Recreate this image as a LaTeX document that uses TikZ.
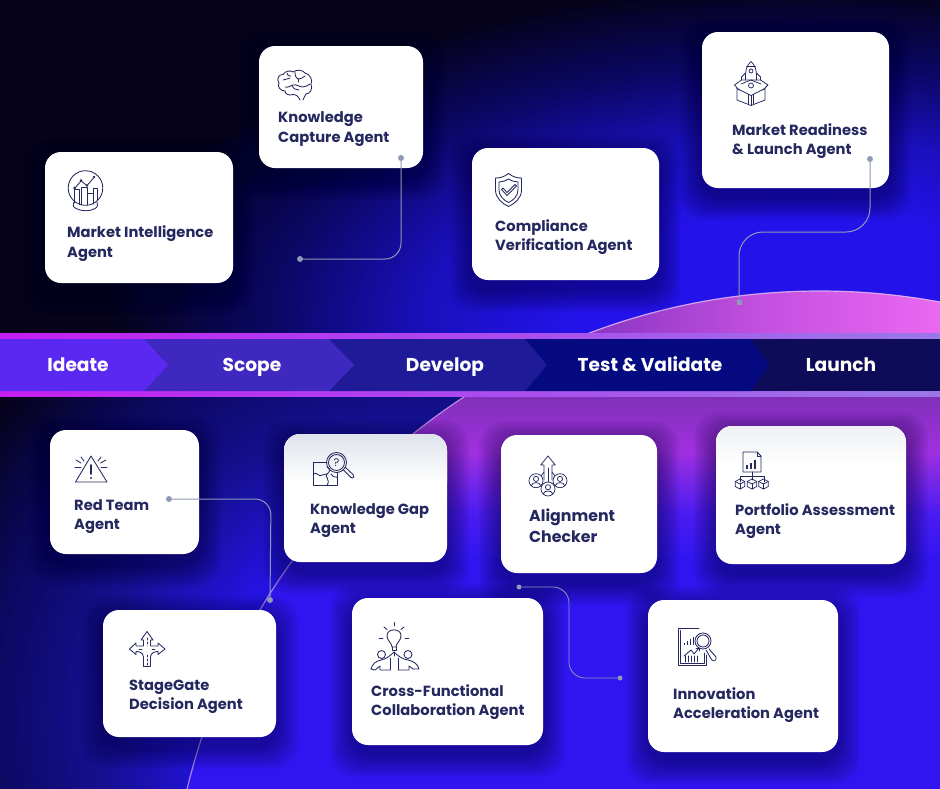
\documentclass[tikz,border=0pt]{standalone}
\usepackage{fontspec}
\setmainfont{Poppins}
\usetikzlibrary{calc}
\definecolor{dk}{HTML}{05021A}
\definecolor{ink}{HTML}{25285E}
\definecolor{gA}{HTML}{2412EA}
\definecolor{gB}{HTML}{1A10BE}
\definecolor{gC}{HTML}{0B0765}
\definecolor{gD}{HTML}{0C0860}
\definecolor{gE}{HTML}{141090}
\definecolor{gF}{HTML}{2413E0}
\definecolor{lineC}{HTML}{8D9AB8}
\definecolor{topgray}{HTML}{DEE3EB}
\definecolor{topgrayb}{HTML}{EEF0F4}
\definecolor{chA}{HTML}{5A28F0}\definecolor{chB}{HTML}{3E28C0}\definecolor{chC}{HTML}{1E1A98}\definecolor{chD}{HTML}{060A80}\definecolor{chE}{HTML}{0E0C58}
\pgfdeclareradialshading{topglow}{\pgfpoint{0bp}{0bp}}{color(0bp)=(gA);color(8bp)=(gA);color(13.5bp)=(gB);color(19bp)=(gC);color(25bp)=(dk);color(50bp)=(dk)}
\pgfdeclareradialshading{lowglow}{\pgfpoint{0bp}{0bp}}{color(0bp)=(gF);color(10bp)=(gF);color(15bp)=(gE);color(20bp)=(gD);color(25bp)=(dk);color(50bp)=(dk)}
\definecolor{c1}{HTML}{8A35C4}\definecolor{c2}{HTML}{C450E0}\definecolor{c3}{HTML}{EA68F2}
\pgfdeclarehorizontalshading{capfill}{100bp}{color(0bp)=(c1);color(25bp)=(c1);color(50bp)=(c2);color(75bp)=(c3);color(100bp)=(c3)}
\definecolor{p1}{HTML}{8030B8}\definecolor{p2}{HTML}{A030E0}\definecolor{p3}{HTML}{4A1CF0}\definecolor{p4}{HTML}{3015F0}
\pgfdeclareverticalshading{lowfill}{100bp}{color(0bp)=(p4);color(25bp)=(p4);color(54bp)=(p4);color(60bp)=(p3);color(68bp)=(p2);color(75bp)=(p1);color(100bp)=(p1)}
\definecolor{b1}{HTML}{C51FF0}\definecolor{b2}{HTML}{B040F0}\definecolor{b3}{HTML}{9A78E8}
\pgfdeclarehorizontalshading{bandline}{100bp}{color(0bp)=(b1);color(25bp)=(b1);color(45bp)=(b2);color(75bp)=(b3);color(100bp)=(b3)}
\tikzset{
  x=1pt,y=-1pt,
  cardbox/.style={rectangle,rounded corners=16pt,fill=white,inner sep=0pt,draw=none},
  cardtext/.style={anchor=base west,align=left,inner sep=0pt,text=ink,font=\fontsize{14.7}{19}\selectfont\bfseries},
  widetext/.style={font=\fontsize{14.7}{20}\selectfont\bfseries},
  stagetext/.style={anchor=base,text=white,inner sep=0pt,font=\fontsize{18.6}{20}\selectfont\bfseries},
  dotn/.style={circle,fill=lineC,inner sep=0pt,minimum size=6pt},
  endn/.style={rectangle,fill=lineC,inner sep=0pt,minimum size=5pt},
  link/.style={draw=lineC,line width=1pt,rounded corners=16pt},
  ico/.style={draw=ink,line width=.85pt,line join=round,line cap=round},
}
\newcommand{\mkcard}[5]{%
  \foreach \s in {22,20,18,16,14,12,10,8,6,4,2}{%
    \fill[black!60!blue!40!black,opacity=.042,rounded corners=24pt] (#2-\s,#3-\s+8) rectangle (#4+\s,#5+\s+10);
  }%
  \pgfmathsetmacro{\cw}{#4-#2}\pgfmathsetmacro{\ch}{#5-#3}%
  \node[cardbox,minimum width=\cw pt,minimum height=\ch pt] (#1) at ({(#2+#4)/2},{(#3+#5)/2}) {};%
}
\begin{document}
\begin{tikzpicture}
\useasboundingbox (0,0) rectangle (940,788);
% upper panel
\fill[dk] (0,0) rectangle (940,333);
\begin{scope}
  \clip (0,0) rectangle (940,333);
  \shade[shading=topglow] (800,320) ellipse [x radius=690,y radius=335];
  \begin{scope}
    \clip (820,942) circle (651);
    \shade[shading=capfill] (590,285) rectangle (940,335);
  \end{scope}
  \draw[white!65!c2,opacity=.8,line width=1.2pt] (820,942) circle (651);
\end{scope}
% lower panel
\fill[dk] (0,396) rectangle (940,788);
\begin{scope}
  \clip (0,396) rectangle (940,788);
  \shade[shading=lowglow] (420,720) ellipse [x radius=540,y radius=500];
  \begin{scope}
    \clip (820,942) circle (651);
    \shade[shading=lowfill] (170,396) rectangle (940,788);
  \end{scope}
  \draw[white!65!c2,opacity=.65,line width=1.2pt] (820,942) circle (651);
\end{scope}
% band
\shade[shading=bandline] (0,333) rectangle (940,339);
\shade[shading=bandline] (0,391) rectangle (940,396);
\fill[chE] (740,339) rectangle (940,391);
\fill[chD] (525,339) -- (751,339) -- (769,365) -- (751,391) -- (525,391) -- cycle;
\fill[chC] (329,339) -- (525,339) -- (547,365) -- (525,391) -- (329,391) -- cycle;
\fill[chB] (144,339) -- (329,339) -- (354,365) -- (329,391) -- (144,391) -- cycle;
\fill[chA] (0,339) -- (144,339) -- (168,365) -- (144,391) -- (0,391) -- cycle;
\node[stagetext] (s1) at (78,371) {Ideate};
\node[stagetext] (s2) at (252,371) {Scope};
\node[stagetext] (s3) at (445,371) {Develop};
\node[stagetext] (s4) at (650,371) {Test \& Validate};
\node[stagetext] (s5) at (841,371) {Launch};
% cards
\mkcard{kc}{259}{46}{423}{168}
\mkcard{mi}{45}{152}{233}{283}
\mkcard{cv}{472}{148}{659}{280}
\mkcard{mr}{702}{32}{889}{188}
\mkcard{rt}{50}{430}{199}{554}
\mkcard{kg}{284}{434}{447}{562}
\mkcard{ac}{501}{435}{657}{573}
\mkcard{pa}{716}{426}{906}{564}
\mkcard{sd}{103}{610}{276}{737}
\mkcard{cf}{352}{598}{543}{745}
\mkcard{ia}{648}{600}{838}{752}
\begin{scope}
  \clip[rounded corners=16pt] (284,434) rectangle (447,562);
  \shade[top color=topgray,bottom color=white] (284,434) rectangle (447,482);
\end{scope}
\begin{scope}
  \clip[rounded corners=16pt] (716,426) rectangle (906,564);
  \shade[top color=topgrayb,bottom color=white] (716,426) rectangle (906,465);
\end{scope}
% card labels
\node[cardtext,widetext] (tmi) at (67,257) {Market Intelligence\\Agent};
\node[cardtext,widetext] (tkc) at (278,142) {Knowledge\\Capture Agent};
\node[cardtext] (tcv) at (495,250) {Compliance\\Verification Agent};
\node[cardtext] (tmr) at (732,154) {Market Readiness\\\& Launch Agent};
\node[cardtext] (trt) at (74,529) {Red Team\\Agent};
\node[cardtext] (tkg) at (310,533) {Knowledge Gap\\Agent};
\node[cardtext,font=\fontsize{15.8}{21}\selectfont\bfseries] (tac) at (529,542) {Alignment\\Checker};
\node[cardtext] (tpa) at (735,534) {Portfolio Assessment\\Agent};
\node[cardtext] (tsd) at (129,709) {StageGate\\Decision Agent};
\node[cardtext] (tcf) at (371,715) {Cross-Functional\\Collaboration Agent};
\node[cardtext] (tia) at (673,718) {Innovation\\Acceleration Agent};
% connectors
\node[dotn] (a1) at (401,158) {};
\node[dotn] (a2) at (300,259) {};
\draw[link] (a1) |- (a2);
\node[dotn] (b1) at (870,159) {};
\node[endn] (b2) at (739,302) {};
\coordinate (b3) at (870,232);
\coordinate (b4) at (739,232);
\draw[link,rounded corners=24pt] (b1) -- (b3) -- (b4) -- (b2);
\node[dotn] (c1n) at (169,499) {};
\node[dotn] (c2n) at (270,600) {};
\coordinate (c3n) at (271,499);
\draw[link] (c1n) -- (c3n) -- (c2n);
\node[dotn,minimum size=5pt] (d1) at (519,587) {};
\node[dotn,minimum size=5pt] (d2) at (620,678) {};
\coordinate (d3) at (569,587);
\coordinate (d4) at (569,678);
\draw[link,line width=.8pt] (d1) -- (d3) -- (d4) -- (d2);
% icon: market intelligence
\begin{scope}[ico]
  \draw (85.5,188) circle (17.3);
  \draw (74,202) .. controls (72,206) and (74,208) .. (76,208.5) .. controls (82,211.5) and (90,211.5) .. (95,208.5) .. controls (98,207) and (98,204) .. (97,202);
  \draw (74.5,203) -- (74.5,189) -- (79,189) -- (79,204.5);
  \draw (81,205) -- (81,187) -- (87,187) -- (87,205);
  \draw (93,204) -- (93,188) -- (97.5,188) -- (97.5,200);
  \draw (87,205) -- (87,193) -- (93,193);
  \draw (75,188) -- (81,181) -- (87,185.5) -- (94,177.5);
  \fill[ink] (74.5,188) circle (1.4) (81,180.5) circle (1.4) (87,185.5) circle (1.4) (94,177) circle (1.4);
\end{scope}
% icon: brain
\begin{scope}[ico]
  \draw (300,100) .. controls (298,96) and (297,95) .. (293,94.5) .. controls (289,96) and (285,94) .. (285,91)
   .. controls (280,91) and (277,86) .. (279,83) .. controls (276,79) and (279,74) .. (283,74.5)
   .. controls (285,71) and (290,70) .. (293,72) .. controls (297,69) and (303,70) .. (305,73)
   .. controls (310,74) and (313,80) .. (311,84) .. controls (313,89) and (310,94) .. (306,94)
   .. controls (305,96) and (304,97) .. (303,100);
  \draw (283,80) .. controls (286,78) and (288,80) .. (290,78);
  \draw (295,72) .. controls (295,76) and (296,78) .. (298,79) .. controls (301,80) and (302,77) .. (305,76);
  \draw (285,87) .. controls (289,88) and (291,85) .. (293,85) .. controls (297,84) and (299,87) .. (303,87) .. controls (306,87) and (308,85) .. (310,84);
  \draw (292,85) .. controls (293,89) and (296,90) .. (299,90);
  \draw (298,79) -- (298,82);
  \draw (287,73) .. controls (287,76) and (289,76) .. (291,76);
\end{scope}
% icon: shield
\begin{scope}[ico]
  \draw (508.5,173.5) .. controls (504,177) and (500,178) .. (495.5,178) -- (495.5,190) .. controls (495.5,198) and (502,203.5) .. (508.5,206.5) .. controls (515,203.5) and (521.5,198) .. (521.5,190) -- (521.5,178) .. controls (517,178) and (513,177) .. (508.5,173.5);
  \draw (508.5,179) .. controls (505,181) and (502,182) .. (499,182) -- (499,190) .. controls (499,196) and (504,200.5) .. (508.5,202.5) .. controls (513,200.5) and (518,196) .. (518,190) -- (518,182) .. controls (515,182) and (512,181) .. (508.5,179);
  \draw (503,188) -- (507,192.5) -- (515,184.5) -- (516.5,186) -- (507,195.5) -- (501.5,189.5) -- cycle;
\end{scope}
% icon: rocket box
\begin{scope}[ico,line width=.75pt]
  \draw (751,61.5) .. controls (747,65) and (745.5,70) .. (745.5,76) -- (745.5,80) -- (756.5,80) -- (756.5,76) .. controls (756.5,70) and (755,65) .. (751,61.5);
  \draw (751,71) circle (2);
  \draw (746.5,66) -- (755.5,66);
  \draw (745.5,73) -- (741.5,77) -- (741.5,80) -- (745.5,80);
  \draw (756.5,73) -- (760.5,77) -- (760.5,80) -- (756.5,80);
  \draw (741.5,80) -- (734.5,85) -- (739,90);
  \draw (760.5,80) -- (768,85) -- (763,90);
  \draw (741,84) -- (751,80);\draw (761,84) -- (751,80);
  \draw (737,88.5) -- (737,100) -- (751,105.5) -- (765,100) -- (765,88.5);
  \draw (737,88.5) -- (751,95.5) -- (765,88.5);
  \draw (751,95.5) -- (751,105.5);
  \draw (748.5,94.5) -- (748.5,104.5);\draw (753.5,94.5) -- (753.5,104.5);
  \draw (751,85.5) circle (2.5);
\end{scope}
% icon: warning
\begin{scope}[ico]
  \draw (91,456) -- (75.5,482) -- (107,482) -- cycle;
  \draw[line width=1.6pt] (91,465) -- (91,474);
  \fill[ink] (91,478) circle (1.1);
  \draw (75,467) -- (81,467);\draw (101,467) -- (107,467);
  \draw (76,460) -- (81,463);\draw (106,460) -- (100.5,463);
  \draw (81,457) -- (84,461);\draw (101,457) -- (98,461);
\end{scope}
% icon: puzzle and lens
\begin{scope}[ico]
  \draw (327,462.5) -- (313.5,462.5) -- (313.5,485.5) -- (337.5,485.5) -- (337.5,472.5);
  \draw (327,467) .. controls (331,469) and (330,472) .. (327,474) .. controls (324,477) and (331,479) .. (327,485.5);
  \draw (313.5,474) .. controls (317,471) and (319,478) .. (322,475) -- (327,474);
  \draw (331,474) .. controls (333,478) and (337,477) .. (337.5,477);
  \draw (336.5,462.5) circle (10);
  \draw (336.5,462.5) circle (8);
  \draw (343.5,470) -- (351,477.5) .. controls (353.5,479) and (355,476) .. (353,474.5) -- (345.5,467.5);
  \node[text=ink,font=\fontsize{11}{11}\selectfont,inner sep=0pt] (q1) at (336.5,462.5) {?};
\end{scope}
% icon: crossroad
\begin{scope}[ico]
  \draw (147,631.5) -- (141,640) -- (143.5,640) -- (143.5,646) -- (136,646) -- (136,643) -- (129.5,649) -- (136,654.5) -- (136,651.5) .. controls (140,651.5) and (143,653) .. (143.5,657) -- (143.5,666.5) -- (150.5,666.5) -- (150.5,657) .. controls (151,653) and (154,651.5) .. (158,651.5) -- (158,654.5) -- (165,649) -- (158,643) -- (158,646) -- (150.5,646) -- (150.5,640) -- (153,640) -- cycle;
  \draw[dash pattern=on 2pt off 2pt] (147,638) -- (147,646);
  \draw[dash pattern=on 2pt off 2pt] (147,655) -- (147,665);
  \draw (139,649) -- (142,649);\draw (152,649) -- (155,649);
\end{scope}
% icon: bulb and people
\begin{scope}[ico]
  \draw (392,647) .. controls (392,643) and (387,641) .. (387,635.5) .. controls (387,628) and (401,628) .. (401,635.5) .. controls (401,641) and (396,643) .. (396,647) -- cycle;
  \draw (392,647) -- (392,650) -- (396,650) -- (396,647);
  \draw (394,622.5) -- (394,626);
  \draw (384,627) -- (387,629.5);\draw (404,627) -- (401,629.5);
  \draw (379,638.5) -- (383,638.5);\draw (405,638.5) -- (409,638.5);
  \draw (381.5,654.5) circle (4);\draw (408,654.5) circle (4);
  \draw (371,669) .. controls (372,664) and (376,661) .. (381,660) .. controls (386,659) and (390,656) .. (394,652) .. controls (398,656) and (402,659) .. (408,660) .. controls (413,661) and (418,664) .. (419,669) -- (413,669);
  \draw (371,669) -- (375,670) -- (380,666) -- (380,670) -- (390,670);
  \draw (413,669) -- (409,666) -- (409,670) -- (398,670);
  \draw (390,670) -- (390,658);\draw (398,670) -- (398,658);
  \draw (394,652) -- (394,656);
\end{scope}
% icon: arrow and people
\begin{scope}[ico,line width=.75pt]
  \draw (548,456) -- (540.7,465) -- (544,465) -- (544,480);
  \draw (548,456) -- (555.3,465) -- (552,465) -- (552,480);
  \draw (548,468) -- (548,482);
  \draw (544,472) -- (541,476);\draw (552,472) -- (555,476);
  \foreach \ux/\uy in {536/480.7,560/480.7,548/489}{
    \begin{scope}[shift={(\ux,\uy)}]
      \fill[white] (0,0) circle (7);
      \draw (0,0) circle (7);
      \draw (0,-1.8) circle (2.6);
      \draw (-4.6,4.8) .. controls (-4,1) and (4,1) .. (4.6,4.8);
    \end{scope}
  }
\end{scope}
% icon: document and cubes
\begin{scope}[ico,line width=.75pt]
  \draw (743,452) -- (757,452) -- (761,456) -- (761,472) -- (743,472) -- cycle;
  \draw (757,452) -- (757,456) -- (761,456);
  \fill[ink] (746,465) rectangle (748,469);
  \fill[ink] (750,463) rectangle (752,469);
  \fill[ink] (754,460) rectangle (756,469);
  \draw (752,472) -- (752,480);
  \draw (740,482) -- (740,476) -- (764,476) -- (764,482);
  \foreach \ux/\uy in {740/484,752/484,763.5/484}{
    \begin{scope}[shift={(\ux,\uy)}]
      \draw (0,-5) -- (4.8,-2.5) -- (4.8,2.5) -- (0,5) -- (-4.8,2.5) -- (-4.8,-2.5) -- cycle;
      \draw (-4.8,-2.5) -- (0,0) -- (4.8,-2.5);\draw (0,0) -- (0,5);
    \end{scope}
  }
\end{scope}
% icon: report and lens
\begin{scope}[ico]
  \draw (678.5,628.5) -- (699,628.5);
  \draw (678.5,628.5) -- (678.5,665.5) -- (706,665.5) -- (706,655);
  \draw (680.5,630.5) -- (680.5,663.5) -- (704,663.5) -- (704,653);
  \fill[ink] (684,643) rectangle (685,645);
  \fill[ink] (687,641) rectangle (688,645);
  \fill[ink] (690,639) rectangle (691,645);
  \fill[ink] (693,637) rectangle (694,645);
  \draw (684,656) -- (691,650) -- (694,654) -- (699,648);
  \draw (696,648) -- (699.5,648) -- (699.5,651);
  \foreach \ux in {685,688,691,694,697} \draw (\ux,662) -- (\ux,656);
  \draw (703,641) circle (8);
  \draw (703,641) circle (6);
  \draw (709,649) -- (716,657) .. controls (717,661) and (713,662) .. (711.5,659.5) -- (706,650);
\end{scope}
\end{tikzpicture}
\end{document}
